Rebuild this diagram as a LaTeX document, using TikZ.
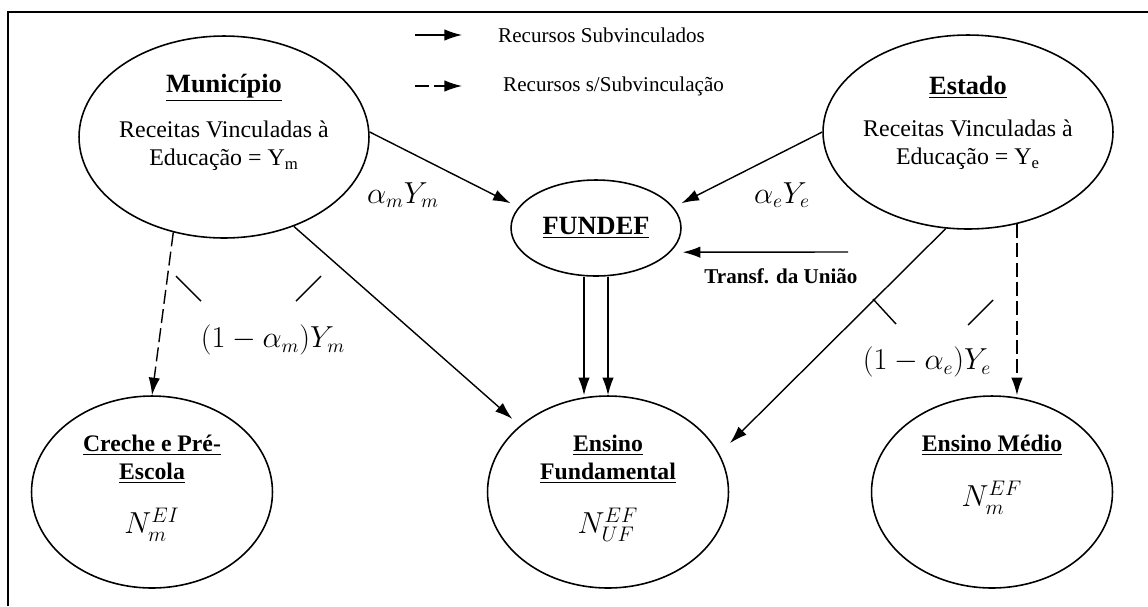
\documentclass[tikz,border=0pt]{standalone}
\usepackage{fontspec}
\setmainfont{Liberation Serif}
\usetikzlibrary{shapes.geometric}
\usetikzlibrary{arrows.meta}
\usetikzlibrary{calc}

\tikzset{
  esfera/.style={draw, ellipse, line width=0.9pt, inner sep=0pt},
  esfgrande/.style={esfera, minimum width=5.8cm, minimum height=4.04cm},
  esfnivel/.style={esfera, minimum width=4.82cm, minimum height=3.84cm},
  fluxo/.style={-{Latex[length=10pt,width=6.5pt]}, line width=0.8pt},
  fluxotrac/.style={fluxo, dash pattern=on 8pt off 3pt},
  traco/.style={line width=0.8pt},
  titulo/.style={font=\fontsize{15}{18}\selectfont\bfseries, align=center},
  titnivel/.style={font=\fontsize{13.5}{16}\selectfont\bfseries, align=center},
  corpo/.style={font=\fontsize{13.6}{16}\selectfont, align=center},
  legenda/.style={font=\fontsize{12}{14}\selectfont, anchor=west},
  rotulo/.style={font=\fontsize{16}{19}\selectfont},
  matric/.style={font=\fontsize{17}{20}\selectfont}
}

\begin{document}
\begin{tikzpicture}[x=0.02cm, y=-0.02cm]
    \useasboundingbox (0,0) rectangle (1148,606);
    \draw[line width=0.9pt] (8,606) -- (8,12) -- (1148,12);

    % legenda
    \coordinate (leg1a) at (415,35);
    \coordinate (leg1b) at (462,35);
    \coordinate (leg2a) at (415,86);
    \coordinate (leg2b) at (462,86);
    \draw[fluxo] (leg1a) -- (leg1b);
    \draw[fluxotrac] (leg2a) -- (leg2b);
    \node[legenda] (leg1) at (492,35) {Recursos Subvinculados};
    \node[legenda] (leg2) at (497,86) {Recursos s/Subvinculação};

    % esferas de governo
    \node[esfgrande] (mun) at (224,137) {};
    \node[titulo] (muntit) at (224,88) {\underline{Município}};
    \node[corpo] (muntxt) at (224,146) {Receitas Vinculadas à\\Educação = Y\textsubscript{m}};
    \node[esfgrande, minimum height=3.88cm] (est) at (968,132) {};
    \node[titulo] (esttit) at (968,87) {\underline{Estado}};
    \node[corpo] (esttxt) at (968,145) {Receitas Vinculadas à\\Educação = Y\textsubscript{e}};

    \node[esfera, minimum width=3.4cm, minimum height=1.92cm, titulo] (fundef) at (596,228) {\underline{FUNDEF}};

    % niveis de ensino
    \node[esfnivel] (creche) at (152,492) {};
    \node[titnivel] (crechetit) at (152,459) {\underline{Creche e Pré-}\\\underline{Escola}};
    \node[matric] (crecheN) at (152,525) {$N^{EI}_{m}$};
    \node[esfnivel] (ensf) at (608,492) {};
    \node[titnivel] (ensftit) at (608,459) {\underline{Ensino}\\\underline{Fundamental}};
    \node[matric] (ensfN) at (608,525) {$N^{EF}_{UF}$};
    \node[esfnivel] (ensm) at (992,492) {};
    \node[titnivel] (ensmtit) at (992,445) {\underline{Ensino Médio}};
    \node[matric] (ensmN) at (992,498) {$N^{EF}_{m}$};

    % fluxos
    \draw[fluxo, shorten >=5pt] (mun.2) -- (fundef.165);
    \draw[fluxo, shorten >=5pt] (est.180) -- (fundef.15);
    \coordinate (uniao) at (848,252);
    \draw[fluxo, shorten >=7pt] (uniao) -- (fundef.-18);
    \node[font=\fontsize{12}{14}\selectfont\bfseries] (uniaotxt) at (781,276) {Transf. da União};
    \draw[fluxo] ($(fundef.south)+(-12,0)$) -- ($(ensf.north)+(-24,0)$);
    \draw[fluxo] ($(fundef.south)+(12,0)$) -- (ensf.north);
    \draw[fluxo, shorten >=5.7pt] (mun.-52) -- (ensf.143);
    \draw[fluxo, shorten >=8.5pt] (est.-103) -- (ensf.19);
    \draw[fluxotrac] (mun.-118) -- (creche.north);
    \draw[fluxotrac] (est.-62) -- (est.-62 |- ensm.north);

    % rotulos
    \node[rotulo] (amym) at (403,195) {$\alpha_m Y_m$};
    \node[rotulo] (aeye) at (782,195) {$\alpha_e Y_e$};
    \draw[traco] (176,276) -- (201,301);
    \draw[traco] (321,276) -- (296,301);
    \node[rotulo] (restm) at (273,340) {$(1-\alpha_m)Y_m$};
    \draw[traco] (873,299) -- (896,324);
    \draw[traco] (993,300) -- (968,325);
    \node[rotulo] (reste) at (927,362) {$(1-\alpha_e)Y_e$};
\end{tikzpicture}
\end{document}
